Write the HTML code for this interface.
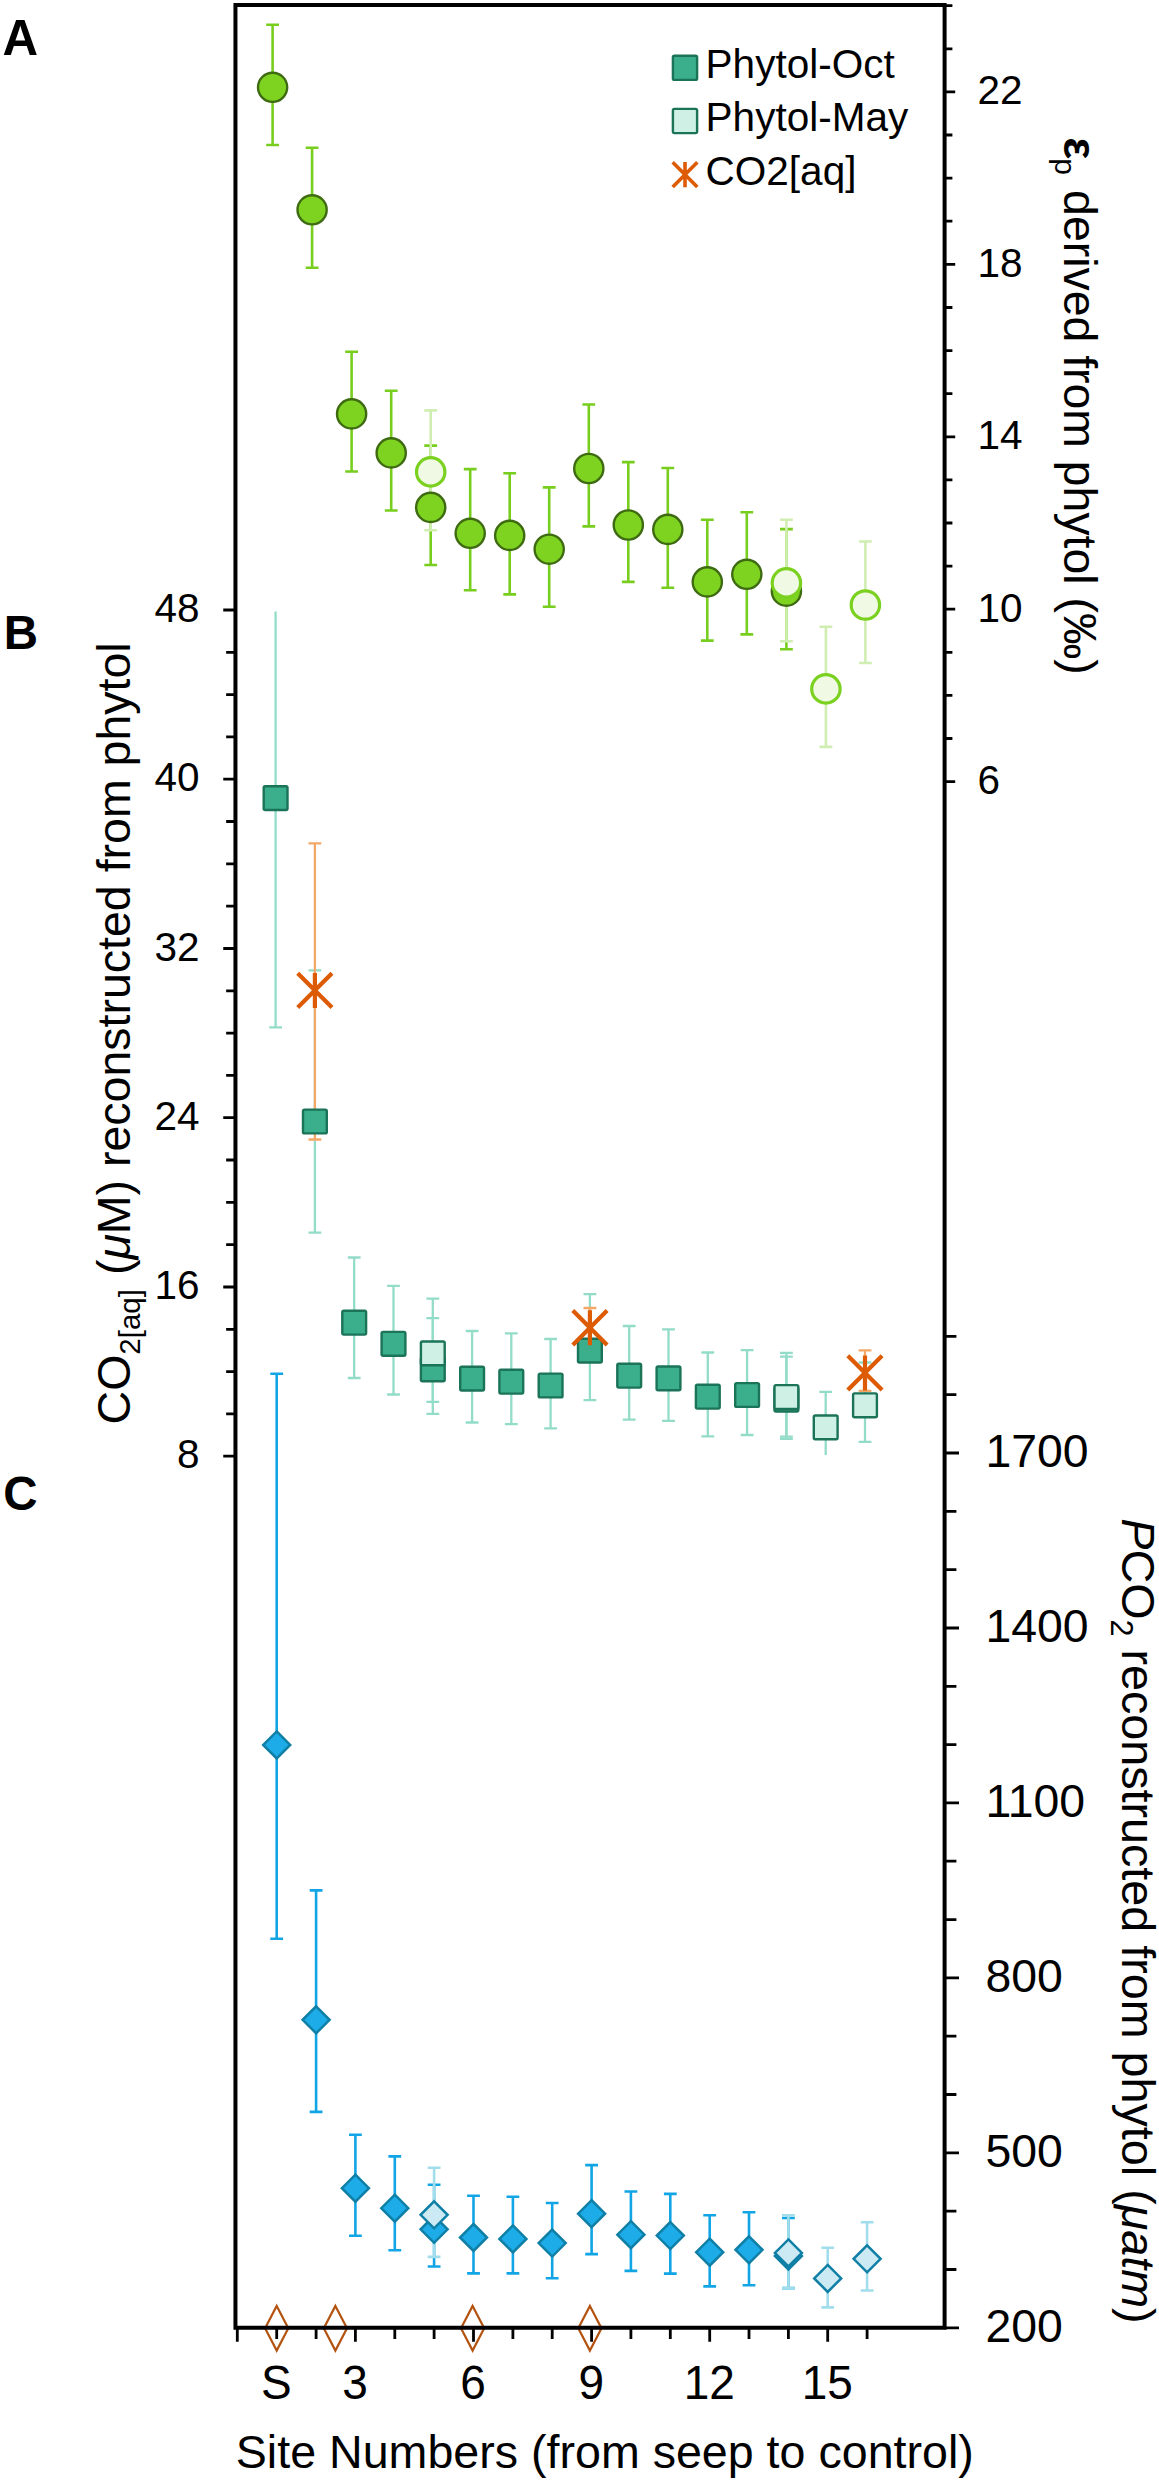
<!DOCTYPE html>
<html lang="en"><head><meta charset="utf-8"><title>Figure</title>
<style>html,body{margin:0;padding:0;background:#fff}svg{display:block}</style></head>
<body><svg width="1159" height="2481" viewBox="0 0 1159 2481">
<rect x="0" y="0" width="1159" height="2481" fill="#fff"/>
<g id="panelA">
<path d="M272.6 24.8V145.0M266.2 24.8h12.8M266.2 145.0h12.8" stroke="#78CE1E" stroke-width="2.6" fill="none"/>
<path d="M312.1 147.7V267.8M305.7 147.7h12.8M305.7 267.8h12.8" stroke="#78CE1E" stroke-width="2.6" fill="none"/>
<path d="M351.6 351.8V471.5M345.2 351.8h12.8M345.2 471.5h12.8" stroke="#78CE1E" stroke-width="2.6" fill="none"/>
<path d="M391.2 390.8V510.5M384.8 390.8h12.8M384.8 510.5h12.8" stroke="#78CE1E" stroke-width="2.6" fill="none"/>
<path d="M430.7 445.6V565.0M424.3 445.6h12.8M424.3 565.0h12.8" stroke="#78CE1E" stroke-width="2.6" fill="none"/>
<path d="M470.2 469.1V590.2M463.8 469.1h12.8M463.8 590.2h12.8" stroke="#78CE1E" stroke-width="2.6" fill="none"/>
<path d="M509.7 473.3V594.4M503.3 473.3h12.8M503.3 594.4h12.8" stroke="#78CE1E" stroke-width="2.6" fill="none"/>
<path d="M549.2 487.4V606.8M542.8 487.4h12.8M542.8 606.8h12.8" stroke="#78CE1E" stroke-width="2.6" fill="none"/>
<path d="M588.8 404.5V526.4M582.4 404.5h12.8M582.4 526.4h12.8" stroke="#78CE1E" stroke-width="2.6" fill="none"/>
<path d="M628.3 462.1V581.9M621.9 462.1h12.8M621.9 581.9h12.8" stroke="#78CE1E" stroke-width="2.6" fill="none"/>
<path d="M667.8 468.0V587.8M661.4 468.0h12.8M661.4 587.8h12.8" stroke="#78CE1E" stroke-width="2.6" fill="none"/>
<path d="M707.3 519.8V640.6M700.9 519.8h12.8M700.9 640.6h12.8" stroke="#78CE1E" stroke-width="2.6" fill="none"/>
<path d="M746.8 512.2V634.4M740.4 512.2h12.8M740.4 634.4h12.8" stroke="#78CE1E" stroke-width="2.6" fill="none"/>
<path d="M786.4 529.1V649.2M780.0 529.1h12.8M780.0 649.2h12.8" stroke="#78CE1E" stroke-width="2.6" fill="none"/>
<path d="M430.7 410.4V530.2M424.3 410.4h12.8M424.3 530.2h12.8" stroke="#D0EEB2" stroke-width="2.6" fill="none"/>
<path d="M786.4 519.8V641.3M780.0 519.8h12.8M780.0 641.3h12.8" stroke="#D0EEB2" stroke-width="2.6" fill="none"/>
<path d="M825.9 626.8V746.9M819.5 626.8h12.8M819.5 746.9h12.8" stroke="#D0EEB2" stroke-width="2.6" fill="none"/>
<path d="M865.4 541.5V663.0M859.0 541.5h12.8M859.0 663.0h12.8" stroke="#D0EEB2" stroke-width="2.6" fill="none"/>
<circle cx="272.6" cy="87.3" r="14.6" fill="#7ED321" stroke="#3E6B12" stroke-width="2.4"/>
<circle cx="312.1" cy="209.8" r="14.6" fill="#7ED321" stroke="#3E6B12" stroke-width="2.4"/>
<circle cx="351.6" cy="413.9" r="14.6" fill="#7ED321" stroke="#3E6B12" stroke-width="2.4"/>
<circle cx="391.2" cy="452.9" r="14.6" fill="#7ED321" stroke="#3E6B12" stroke-width="2.4"/>
<circle cx="430.7" cy="507.4" r="14.6" fill="#7ED321" stroke="#3E6B12" stroke-width="2.4"/>
<circle cx="470.2" cy="533.3" r="14.6" fill="#7ED321" stroke="#3E6B12" stroke-width="2.4"/>
<circle cx="509.7" cy="535.4" r="14.6" fill="#7ED321" stroke="#3E6B12" stroke-width="2.4"/>
<circle cx="549.2" cy="549.2" r="14.6" fill="#7ED321" stroke="#3E6B12" stroke-width="2.4"/>
<circle cx="588.8" cy="468.5" r="14.6" fill="#7ED321" stroke="#3E6B12" stroke-width="2.4"/>
<circle cx="628.3" cy="525.0" r="14.6" fill="#7ED321" stroke="#3E6B12" stroke-width="2.4"/>
<circle cx="667.8" cy="529.4" r="14.6" fill="#7ED321" stroke="#3E6B12" stroke-width="2.4"/>
<circle cx="707.3" cy="581.9" r="14.6" fill="#7ED321" stroke="#3E6B12" stroke-width="2.4"/>
<circle cx="746.8" cy="574.3" r="14.6" fill="#7ED321" stroke="#3E6B12" stroke-width="2.4"/>
<circle cx="786.4" cy="591.2" r="14.6" fill="#7ED321" stroke="#3E6B12" stroke-width="2.4"/>
<circle cx="430.7" cy="471.9" r="14.2" fill="#F0F9E4" stroke="#7BD11F" stroke-width="3.2"/>
<circle cx="786.4" cy="582.9" r="14.2" fill="#F0F9E4" stroke="#7BD11F" stroke-width="3.2"/>
<circle cx="825.9" cy="688.9" r="14.2" fill="#F0F9E4" stroke="#7BD11F" stroke-width="3.2"/>
<circle cx="865.4" cy="605.0" r="14.2" fill="#F0F9E4" stroke="#7BD11F" stroke-width="3.2"/>
</g>
<g id="panelB">
<path d="M275.6 611.5V1027.3M269.2 1027.3h12.8" stroke="#92DCC8" stroke-width="2.3" fill="none"/>
<path d="M314.9 970.4V1232.6M308.5 970.4h12.8M308.5 1232.6h12.8" stroke="#92DCC8" stroke-width="2.3" fill="none"/>
<path d="M354.2 1257.5V1378.0M347.8 1257.5h12.8M347.8 1378.0h12.8" stroke="#92DCC8" stroke-width="2.3" fill="none"/>
<path d="M393.5 1285.8V1394.5M387.1 1285.8h12.8M387.1 1394.5h12.8" stroke="#92DCC8" stroke-width="2.3" fill="none"/>
<path d="M432.8 1318.2V1413.8M426.4 1318.2h12.8M426.4 1413.8h12.8" stroke="#92DCC8" stroke-width="2.3" fill="none"/>
<path d="M472.1 1331.0V1422.5M465.7 1331.0h12.8M465.7 1422.5h12.8" stroke="#92DCC8" stroke-width="2.3" fill="none"/>
<path d="M511.3 1333.4V1424.2M504.9 1333.4h12.8M504.9 1424.2h12.8" stroke="#92DCC8" stroke-width="2.3" fill="none"/>
<path d="M550.6 1339.0V1428.3M544.2 1339.0h12.8M544.2 1428.3h12.8" stroke="#92DCC8" stroke-width="2.3" fill="none"/>
<path d="M589.9 1294.2V1400.2M583.5 1294.2h12.8M583.5 1400.2h12.8" stroke="#92DCC8" stroke-width="2.3" fill="none"/>
<path d="M629.2 1326.0V1419.6M622.8 1326.0h12.8M622.8 1419.6h12.8" stroke="#92DCC8" stroke-width="2.3" fill="none"/>
<path d="M668.5 1329.4V1420.8M662.1 1329.4h12.8M662.1 1420.8h12.8" stroke="#92DCC8" stroke-width="2.3" fill="none"/>
<path d="M707.8 1352.5V1436.4M701.4 1352.5h12.8M701.4 1436.4h12.8" stroke="#92DCC8" stroke-width="2.3" fill="none"/>
<path d="M747.1 1350.1V1435.0M740.7 1350.1h12.8M740.7 1435.0h12.8" stroke="#92DCC8" stroke-width="2.3" fill="none"/>
<path d="M786.4 1356.7V1438.8M780.0 1356.7h12.8M780.0 1438.8h12.8" stroke="#92DCC8" stroke-width="2.3" fill="none"/>
<path d="M432.8 1298.6V1401.8M426.4 1298.6h12.8M426.4 1401.8h12.8" stroke="#92DCC8" stroke-width="2.3" fill="none"/>
<path d="M786.4 1352.9V1436.7M780.0 1352.9h12.8M780.0 1436.7h12.8" stroke="#92DCC8" stroke-width="2.3" fill="none"/>
<path d="M825.7 1391.9V1455.0M819.3 1391.9h12.8" stroke="#92DCC8" stroke-width="2.3" fill="none"/>
<path d="M865.0 1362.5V1441.9M858.6 1362.5h12.8M858.6 1441.9h12.8" stroke="#92DCC8" stroke-width="2.3" fill="none"/>
<path d="M314.9 843.3V1139.5M308.5 843.3h12.8M308.5 1139.5h12.8" stroke="#F3A868" stroke-width="2.3" fill="none"/>
<path d="M589.9 1308.0V1348.0M583.5 1308.0h12.8M583.5 1348.0h12.8" stroke="#F3A868" stroke-width="2.3" fill="none"/>
<path d="M865.0 1350.4V1390.8M858.6 1350.4h12.8M858.6 1390.8h12.8" stroke="#F3A868" stroke-width="2.3" fill="none"/>
<rect x="263.7" y="786.2" width="23.8" height="23.8" rx="1.5" fill="#3BAE8C" stroke="#1B7358" stroke-width="2.4"/>
<rect x="303.0" y="1109.6" width="23.8" height="23.8" rx="1.5" fill="#3BAE8C" stroke="#1B7358" stroke-width="2.4"/>
<rect x="342.3" y="1310.8" width="23.8" height="23.8" rx="1.5" fill="#3BAE8C" stroke="#1B7358" stroke-width="2.4"/>
<rect x="381.6" y="1331.9" width="23.8" height="23.8" rx="1.5" fill="#3BAE8C" stroke="#1B7358" stroke-width="2.4"/>
<rect x="420.9" y="1357.5" width="23.8" height="23.8" rx="1.5" fill="#3BAE8C" stroke="#1B7358" stroke-width="2.4"/>
<rect x="460.2" y="1366.7" width="23.8" height="23.8" rx="1.5" fill="#3BAE8C" stroke="#1B7358" stroke-width="2.4"/>
<rect x="499.4" y="1369.8" width="23.8" height="23.8" rx="1.5" fill="#3BAE8C" stroke="#1B7358" stroke-width="2.4"/>
<rect x="538.7" y="1373.6" width="23.8" height="23.8" rx="1.5" fill="#3BAE8C" stroke="#1B7358" stroke-width="2.4"/>
<rect x="578.0" y="1338.7" width="23.8" height="23.8" rx="1.5" fill="#3BAE8C" stroke="#1B7358" stroke-width="2.4"/>
<rect x="617.3" y="1363.8" width="23.8" height="23.8" rx="1.5" fill="#3BAE8C" stroke="#1B7358" stroke-width="2.4"/>
<rect x="656.6" y="1366.5" width="23.8" height="23.8" rx="1.5" fill="#3BAE8C" stroke="#1B7358" stroke-width="2.4"/>
<rect x="695.9" y="1384.8" width="23.8" height="23.8" rx="1.5" fill="#3BAE8C" stroke="#1B7358" stroke-width="2.4"/>
<rect x="735.2" y="1383.1" width="23.8" height="23.8" rx="1.5" fill="#3BAE8C" stroke="#1B7358" stroke-width="2.4"/>
<rect x="774.5" y="1387.7" width="23.8" height="23.8" rx="1.5" fill="#3BAE8C" stroke="#1B7358" stroke-width="2.4"/>
<rect x="420.9" y="1341.5" width="23.8" height="23.8" rx="1.5" fill="#CFF0E5" stroke="#1B7358" stroke-width="2.4"/>
<rect x="774.5" y="1385.1" width="23.8" height="23.8" rx="1.5" fill="#CFF0E5" stroke="#1B7358" stroke-width="2.4"/>
<rect x="813.8" y="1415.5" width="23.8" height="23.8" rx="1.5" fill="#CFF0E5" stroke="#1B7358" stroke-width="2.4"/>
<rect x="853.1" y="1393.4" width="23.8" height="23.8" rx="1.5" fill="#CFF0E5" stroke="#1B7358" stroke-width="2.4"/>
<path d="M297.7 973.2L332.0 1007.5M297.7 1007.5L332.0 973.2M314.9 972.9V1007.9" stroke="#DE5B05" stroke-width="4.2" fill="none"/>
<path d="M572.8 1310.6L607.1 1345.0M572.8 1345.0L607.1 1310.6M589.9 1310.3V1345.3" stroke="#DE5B05" stroke-width="4.2" fill="none"/>
<path d="M847.8 1355.8L882.1 1390.1M847.8 1390.1L882.1 1355.8M865.0 1355.4V1390.4" stroke="#DE5B05" stroke-width="4.2" fill="none"/>
</g>
<g id="panelC">
<path d="M276.7 1373.7V1938.7M270.3 1373.7h12.8M270.3 1938.7h12.8" stroke="#12A5E5" stroke-width="2.6" fill="none"/>
<path d="M316.1 1890.4V2111.9M309.7 1890.4h12.8M309.7 2111.9h12.8" stroke="#12A5E5" stroke-width="2.6" fill="none"/>
<path d="M355.4 2134.7V2235.8M349.0 2134.7h12.8M349.0 2235.8h12.8" stroke="#12A5E5" stroke-width="2.6" fill="none"/>
<path d="M394.8 2156.4V2250.3M388.4 2156.4h12.8M388.4 2250.3h12.8" stroke="#12A5E5" stroke-width="2.6" fill="none"/>
<path d="M434.1 2184.7V2266.5M427.7 2184.7h12.8M427.7 2266.5h12.8" stroke="#12A5E5" stroke-width="2.6" fill="none"/>
<path d="M473.5 2195.8V2273.4M467.1 2195.8h12.8M467.1 2273.4h12.8" stroke="#12A5E5" stroke-width="2.6" fill="none"/>
<path d="M512.9 2196.8V2273.4M506.5 2196.8h12.8M506.5 2273.4h12.8" stroke="#12A5E5" stroke-width="2.6" fill="none"/>
<path d="M552.2 2203.0V2278.3M545.8 2203.0h12.8M545.8 2278.3h12.8" stroke="#12A5E5" stroke-width="2.6" fill="none"/>
<path d="M591.6 2165.1V2254.1M585.2 2165.1h12.8M585.2 2254.1h12.8" stroke="#12A5E5" stroke-width="2.6" fill="none"/>
<path d="M630.9 2191.5V2270.9M624.5 2191.5h12.8M624.5 2270.9h12.8" stroke="#12A5E5" stroke-width="2.6" fill="none"/>
<path d="M670.3 2193.9V2273.6M663.9 2193.9h12.8M663.9 2273.6h12.8" stroke="#12A5E5" stroke-width="2.6" fill="none"/>
<path d="M709.7 2215.3V2286.4M703.3 2215.3h12.8M703.3 2286.4h12.8" stroke="#12A5E5" stroke-width="2.6" fill="none"/>
<path d="M749.0 2212.2V2285.3M742.6 2212.2h12.8M742.6 2285.3h12.8" stroke="#12A5E5" stroke-width="2.6" fill="none"/>
<path d="M788.4 2218.0V2288.1M782.0 2218.0h12.8M782.0 2288.1h12.8" stroke="#12A5E5" stroke-width="2.6" fill="none"/>
<path d="M434.1 2167.8V2256.9M427.7 2167.8h12.8M427.7 2256.9h12.8" stroke="#A2DDEB" stroke-width="2.6" fill="none"/>
<path d="M788.4 2215.3V2288.1M782.0 2215.3h12.8M782.0 2288.1h12.8" stroke="#A2DDEB" stroke-width="2.6" fill="none"/>
<path d="M827.7 2247.7V2307.4M821.3 2247.7h12.8M821.3 2307.4h12.8" stroke="#A2DDEB" stroke-width="2.6" fill="none"/>
<path d="M867.1 2222.2V2290.5M860.7 2222.2h12.8M860.7 2290.5h12.8" stroke="#A2DDEB" stroke-width="2.6" fill="none"/>
<path d="M276.7 1731.4L290.2 1744.9L276.7 1758.4L263.2 1744.9Z" fill="#1DACE8" stroke="#0F7FA6" stroke-width="2.5" stroke-linejoin="miter"/>
<path d="M316.1 2006.3L329.6 2019.8L316.1 2033.3L302.6 2019.8Z" fill="#1DACE8" stroke="#0F7FA6" stroke-width="2.5" stroke-linejoin="miter"/>
<path d="M355.4 2174.7L368.9 2188.2L355.4 2201.7L341.9 2188.2Z" fill="#1DACE8" stroke="#0F7FA6" stroke-width="2.5" stroke-linejoin="miter"/>
<path d="M394.8 2194.7L408.3 2208.2L394.8 2221.7L381.3 2208.2Z" fill="#1DACE8" stroke="#0F7FA6" stroke-width="2.5" stroke-linejoin="miter"/>
<path d="M434.1 2215.8L447.6 2229.3L434.1 2242.8L420.6 2229.3Z" fill="#1DACE8" stroke="#0F7FA6" stroke-width="2.5" stroke-linejoin="miter"/>
<path d="M473.5 2224.0L487.0 2237.5L473.5 2251.0L460.0 2237.5Z" fill="#1DACE8" stroke="#0F7FA6" stroke-width="2.5" stroke-linejoin="miter"/>
<path d="M512.9 2225.4L526.4 2238.9L512.9 2252.4L499.4 2238.9Z" fill="#1DACE8" stroke="#0F7FA6" stroke-width="2.5" stroke-linejoin="miter"/>
<path d="M552.2 2229.6L565.7 2243.1L552.2 2256.6L538.7 2243.1Z" fill="#1DACE8" stroke="#0F7FA6" stroke-width="2.5" stroke-linejoin="miter"/>
<path d="M591.6 2200.2L605.1 2213.7L591.6 2227.2L578.1 2213.7Z" fill="#1DACE8" stroke="#0F7FA6" stroke-width="2.5" stroke-linejoin="miter"/>
<path d="M630.9 2221.2L644.4 2234.7L630.9 2248.2L617.4 2234.7Z" fill="#1DACE8" stroke="#0F7FA6" stroke-width="2.5" stroke-linejoin="miter"/>
<path d="M670.3 2222.1L683.8 2235.6L670.3 2249.1L656.8 2235.6Z" fill="#1DACE8" stroke="#0F7FA6" stroke-width="2.5" stroke-linejoin="miter"/>
<path d="M709.7 2238.7L723.2 2252.2L709.7 2265.7L696.2 2252.2Z" fill="#1DACE8" stroke="#0F7FA6" stroke-width="2.5" stroke-linejoin="miter"/>
<path d="M749.0 2236.3L762.5 2249.8L749.0 2263.3L735.5 2249.8Z" fill="#1DACE8" stroke="#0F7FA6" stroke-width="2.5" stroke-linejoin="miter"/>
<path d="M788.4 2242.5L801.9 2256.0L788.4 2269.5L774.9 2256.0Z" fill="#1DACE8" stroke="#0F7FA6" stroke-width="2.5" stroke-linejoin="miter"/>
<path d="M434.1 2201.3L447.6 2214.8L434.1 2228.3L420.6 2214.8Z" fill="#CBEAF3" stroke="#0F7FA6" stroke-width="2.5" stroke-linejoin="miter"/>
<path d="M788.4 2239.4L801.9 2252.9L788.4 2266.4L774.9 2252.9Z" fill="#CBEAF3" stroke="#0F7FA6" stroke-width="2.5" stroke-linejoin="miter"/>
<path d="M827.7 2264.9L841.2 2278.4L827.7 2291.9L814.2 2278.4Z" fill="#CBEAF3" stroke="#0F7FA6" stroke-width="2.5" stroke-linejoin="miter"/>
<path d="M867.1 2245.3L880.6 2258.8L867.1 2272.3L853.6 2258.8Z" fill="#CBEAF3" stroke="#0F7FA6" stroke-width="2.5" stroke-linejoin="miter"/>
</g>
<path d="M276.7 2306.0L288.3 2328.3L276.7 2350.6L265.1 2328.3Z" fill="none" stroke="#B4530F" stroke-width="2.2"/>
<path d="M335.4 2306.0L347.0 2328.3L335.4 2350.6L323.8 2328.3Z" fill="none" stroke="#B4530F" stroke-width="2.2"/>
<path d="M472.6 2306.0L484.2 2328.3L472.6 2350.6L461.0 2328.3Z" fill="none" stroke="#B4530F" stroke-width="2.2"/>
<path d="M589.9 2306.0L601.5 2328.3L589.9 2350.6L578.3 2328.3Z" fill="none" stroke="#B4530F" stroke-width="2.2"/>
<path d="M235.45 2327.8V5.0H944.6V2327.8H235.45" fill="none" stroke="#000" stroke-width="4.0" stroke-linejoin="miter" stroke-linecap="square"/>
<path d="M944.6 781.7h10.6M944.6 738.5h7.8M944.6 695.4h7.8M944.6 652.3h7.8M944.6 609.2h10.6M944.6 566.1h7.8M944.6 523.0h7.8M944.6 479.9h7.8M944.6 436.8h10.6M944.6 393.7h7.8M944.6 350.6h7.8M944.6 307.5h7.8M944.6 264.3h10.6M944.6 221.2h7.8M944.6 178.1h7.8M944.6 135.0h7.8M944.6 91.9h10.6M944.6 48.8h7.8M944.6 5.7h7.8M235.45 1456.2h-12.2M235.45 1413.9h-9.3M235.45 1371.6h-9.3M235.45 1329.3h-9.3M235.45 1287.0h-12.2M235.45 1244.7h-9.3M235.45 1202.3h-9.3M235.45 1160.0h-9.3M235.45 1117.7h-12.2M235.45 1075.4h-9.3M235.45 1033.1h-9.3M235.45 990.8h-9.3M235.45 948.5h-12.2M235.45 906.2h-9.3M235.45 863.9h-9.3M235.45 821.5h-9.3M235.45 779.2h-12.2M235.45 736.9h-9.3M235.45 694.6h-9.3M235.45 652.3h-9.3M235.45 610.0h-12.2M944.6 2327.8h14.4M944.6 2269.5h11.8M944.6 2211.2h11.8M944.6 2152.8h14.4M944.6 2094.5h11.8M944.6 2036.2h11.8M944.6 1977.9h14.4M944.6 1919.6h11.8M944.6 1861.2h11.8M944.6 1802.9h14.4M944.6 1744.6h11.8M944.6 1686.3h11.8M944.6 1628.0h14.4M944.6 1569.6h11.8M944.6 1511.3h11.8M944.6 1453.0h14.4M944.6 1394.7h11.8M944.6 1336.4h11.8M237.3 2327.8v14.0M276.7 2327.8v11.2M316.1 2327.8v11.2M355.4 2327.8v14.0M394.8 2327.8v11.2M434.1 2327.8v11.2M473.5 2327.8v14.0M512.9 2327.8v11.2M552.2 2327.8v11.2M591.6 2327.8v14.0M630.9 2327.8v11.2M670.3 2327.8v11.2M709.7 2327.8v14.0M749.0 2327.8v11.2M788.4 2327.8v11.2M827.7 2327.8v14.0M867.1 2327.8v11.2" stroke="#000" stroke-width="2.8" fill="none"/>
<g font-family='"Liberation Sans", Arial, sans-serif' fill="#000">
<text x="2.6" y="54.9" font-size="49.3" font-weight="bold">A</text>
<text x="3.8" y="648.8" font-size="47.5" font-weight="bold">B</text>
<text x="3.2" y="1510.2" font-size="47.5" font-weight="bold">C</text>
<text x="977.6" y="104.2" font-size="40.5">22</text>
<text x="977.6" y="276.6" font-size="40.5">18</text>
<text x="977.6" y="449.1" font-size="40.5">14</text>
<text x="977.6" y="621.5" font-size="40.5">10</text>
<text x="977.6" y="794.0" font-size="40.5">6</text>
<text x="199.6" y="622.0" font-size="40.5" text-anchor="end">48</text>
<text x="199.6" y="791.2" font-size="40.5" text-anchor="end">40</text>
<text x="199.6" y="960.5" font-size="40.5" text-anchor="end">32</text>
<text x="199.6" y="1129.7" font-size="40.5" text-anchor="end">24</text>
<text x="199.6" y="1299.0" font-size="40.5" text-anchor="end">16</text>
<text x="199.6" y="1468.2" font-size="40.5" text-anchor="end">8</text>
<text x="985.4" y="1466.8" font-size="46.4">1700</text>
<text x="985.4" y="1641.8" font-size="46.4">1400</text>
<text x="985.4" y="1816.7" font-size="46.4">1100</text>
<text x="985.4" y="1991.7" font-size="46.4">800</text>
<text x="985.4" y="2166.6" font-size="46.4">500</text>
<text x="985.4" y="2341.6" font-size="46.4">200</text>
<text transform="translate(276.3,2399.2) scale(1,1.04)" font-size="46" text-anchor="middle">S</text>
<text transform="translate(355.0,2399.2) scale(1,1.04)" font-size="46" text-anchor="middle">3</text>
<text transform="translate(473.1,2399.2) scale(1,1.04)" font-size="46" text-anchor="middle">6</text>
<text transform="translate(591.2,2399.2) scale(1,1.04)" font-size="46" text-anchor="middle">9</text>
<text transform="translate(709.3,2399.2) scale(1,1.04)" font-size="46" text-anchor="middle">12</text>
<text transform="translate(827.3,2399.2) scale(1,1.04)" font-size="46" text-anchor="middle">15</text>
<text x="235.8" y="2467.8" font-size="46.6">Site Numbers (from seep to control)</text>
<rect x="672.9" y="55.7" width="24.2" height="24.2" rx="1.5" fill="#3BAE8C" stroke="#1B7358" stroke-width="2.4"/>
<rect x="672.9" y="108.9" width="24.2" height="24.2" rx="1.5" fill="#CFF0E5" stroke="#1B7358" stroke-width="2.4"/>
<path d="M672.7 162.3L697.3 186.9M672.7 186.9L697.3 162.3M685.0 162.0V187.2" stroke="#DE5B05" stroke-width="3.6" fill="none"/>
<text x="705.6" y="78.2" font-size="40.5">Phytol-Oct</text>
<text x="705.6" y="131.4" font-size="40.5">Phytol-May</text>
<text x="705.6" y="184.6" font-size="40.5">CO2[aq]</text>
<text transform="translate(1063.8,137.2) rotate(90)" font-size="46.4"><tspan font-weight="bold">ε</tspan><tspan font-size="30" dy="8.4" dx="-1">p</tspan><tspan dy="-8.4" dx="2.3"> derived from phytol (‰)</tspan></text>
<text transform="translate(130,1424.4) rotate(-90)" font-size="46.5">CO<tspan font-size="29.5" dy="10.4">2[aq]</tspan><tspan dy="-10.4" dx="1"> (</tspan><tspan font-style="italic">μ</tspan>M) reconstructed from phytol</text>
<text transform="translate(1121.5,1518.3) rotate(90)" font-size="46.7"><tspan font-style="italic">P</tspan>CO<tspan font-size="30.5" dy="10.2">2</tspan><tspan dy="-10.2"> reconstructed from phytol (</tspan><tspan font-style="italic">μatm</tspan>)</text>
</g>
</svg></body></html>
